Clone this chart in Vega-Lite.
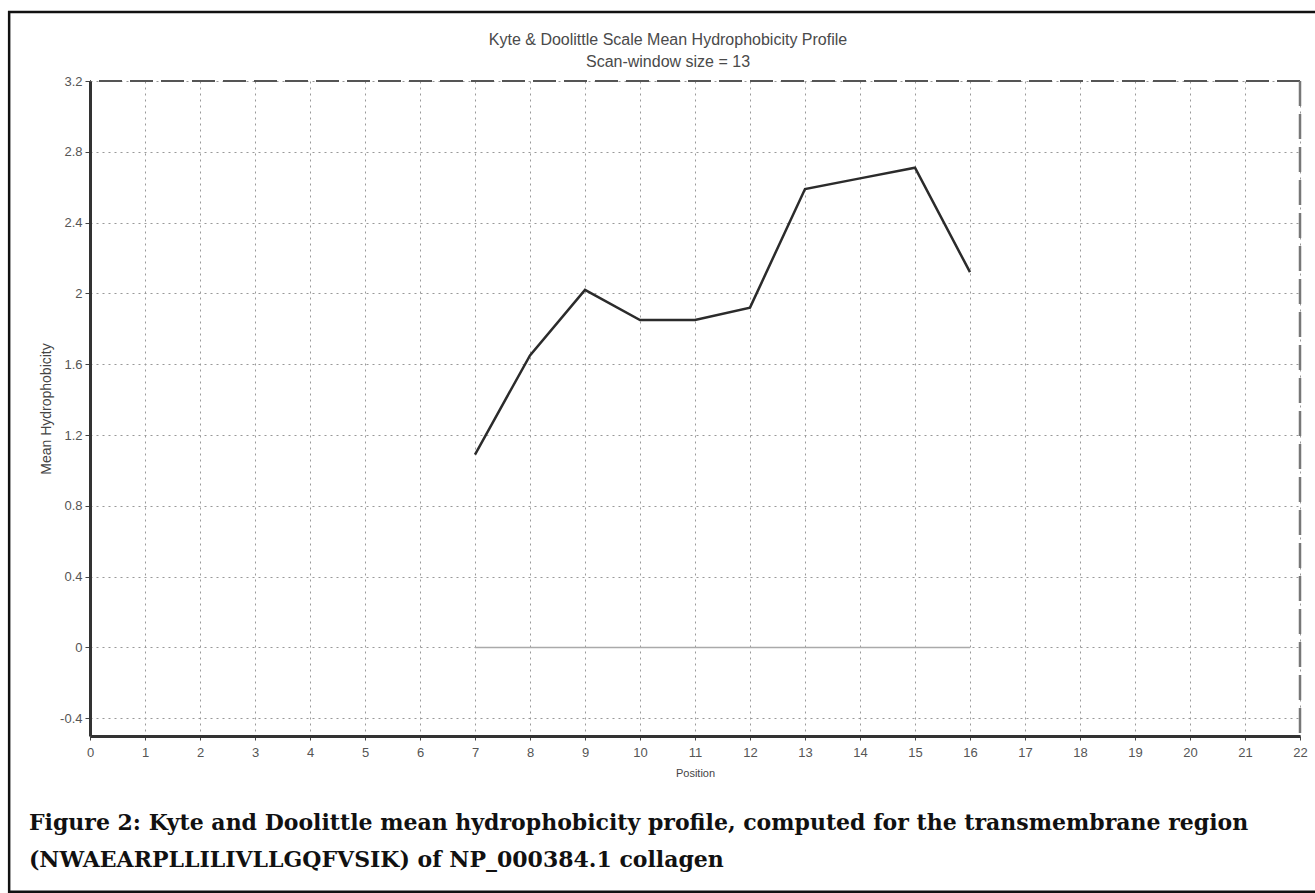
{
  "$schema": "https://vega.github.io/schema/vega-lite/v6.json",
  "width": 1210,
  "height": 655,
  "padding": {"left": 7, "top": 10, "right": 0, "bottom": 0},
  "autosize": {"type": "pad"},
  "background": "white",
  "config": {"view": {"stroke": null}, "font": "Liberation Sans"},
  "title": {
    "text": ["Kyte & Doolittle Scale Mean Hydrophobicity Profile", "Scan-window size = 13"],
    "frame": "group",
    "anchor": "middle",
    "dx": -27,
    "offset": -59,
    "fontSize": 16,
    "fontWeight": "normal",
    "font": "Liberation Sans",
    "color": "#4a4a4a",
    "lineHeight": 22
  },
  "datasets": {
    "profile": [
      {"position": 7, "value": 1.09},
      {"position": 8, "value": 1.65},
      {"position": 9, "value": 2.02},
      {"position": 10, "value": 1.85},
      {"position": 11, "value": 1.85},
      {"position": 12, "value": 1.92},
      {"position": 13, "value": 2.59},
      {"position": 14, "value": 2.65},
      {"position": 15, "value": 2.71},
      {"position": 16, "value": 2.12}
    ],
    "baseline": [
      {"position": 7, "value": 0},
      {"position": 16, "value": 0}
    ],
    "caption": [
      {"text": "Figure 2: Kyte and Doolittle mean hydrophobicity profile, computed for the transmembrane region\n(NWAEARPLLILIVLLGQFVSIK) of NP_000384.1 collagen"}
    ]
  },
  "layer": [
    {
      "data": {"name": "baseline"},
      "mark": {"type": "line", "color": "#aaa", "strokeWidth": 1.5, "clip": false},
      "encoding": {
        "x": {
          "field": "position", "type": "quantitative",
          "scale": {"domain": [0, 22], "nice": false, "zero": false},
          "axis": {
            "values": [0,1,2,3,4,5,6,7,8,9,10,11,12,13,14,15,16,17,18,19,20,21,22],
            "grid": true, "gridDash": [2, 4], "gridColor": "#999", "gridWidth": 1,
            "domainColor": "#333", "domainWidth": 3,
            "tickColor": "#444", "tickSize": 4, "tickWidth": 1,
            "labelFontSize": 13, "labelColor": "#555", "labelPadding": 6, "labelFlush": false,
            "title": "Position", "titleFontSize": 11, "titleFontWeight": "normal", "titleColor": "#444", "titlePadding": 8
          }
        },
        "y": {
          "field": "value", "type": "quantitative",
          "scale": {"domain": [-0.5, 3.2], "nice": false, "zero": false},
          "axis": {
            "values": [-0.4, 0, 0.4, 0.8, 1.2, 1.6, 2, 2.4, 2.8, 3.2],
            "labelExpr": "'' + datum.value",
            "grid": true, "gridDash": [2, 4], "gridColor": "#999", "gridWidth": 1,
            "domainColor": "#333", "domainWidth": 3,
            "tickColor": "#444", "tickSize": 5, "tickWidth": 1,
            "labelFontSize": 13, "labelColor": "#555", "labelPadding": 3,
            "title": "Mean Hydrophobicity", "titleFontSize": 14, "titleFontWeight": "normal", "titleColor": "#444", "titlePadding": 6
          }
        }
      }
    },
    {
      "data": {"values": [{}]},
      "mark": {"type": "rule", "color": "#555", "strokeWidth": 2, "strokeDash": [23, 8], "clip": false},
      "encoding": {"y": {"datum": 3.2}}
    },
    {
      "data": {"values": [{}]},
      "mark": {"type": "rule", "color": "#777", "strokeWidth": 2.5, "strokeDash": [25, 8], "clip": false},
      "encoding": {"x": {"datum": 22}}
    },
    {
      "data": {"name": "profile"},
      "mark": {"type": "line", "color": "#2b2b2b", "strokeWidth": 2.5, "clip": false},
      "encoding": {
        "x": {"field": "position", "type": "quantitative"},
        "y": {"field": "value", "type": "quantitative"}
      }
    },
    {
      "data": {"values": [{}]},
      "mark": {"type": "rect", "filled": false, "color": "#111", "strokeWidth": 2.5, "clip": false},
      "encoding": {
        "x": {"datum": -1.47},
        "x2": {"datum": 22.35},
        "y": {"datum": 3.59},
        "y2": {"datum": -1.38}
      }
    },
    {
      "data": {"name": "caption"},
      "mark": {"type": "text", "align": "left", "baseline": "alphabetic", "font": "DejaVu Serif", "fontWeight": "bold", "fontSize": 22, "lineHeight": 37, "lineBreak": "\n", "color": "#111", "clip": false},
      "encoding": {
        "text": {"field": "text"},
        "x": {"datum": -1.11},
        "y": {"datum": -1.03}
      }
    }
  ]
}
